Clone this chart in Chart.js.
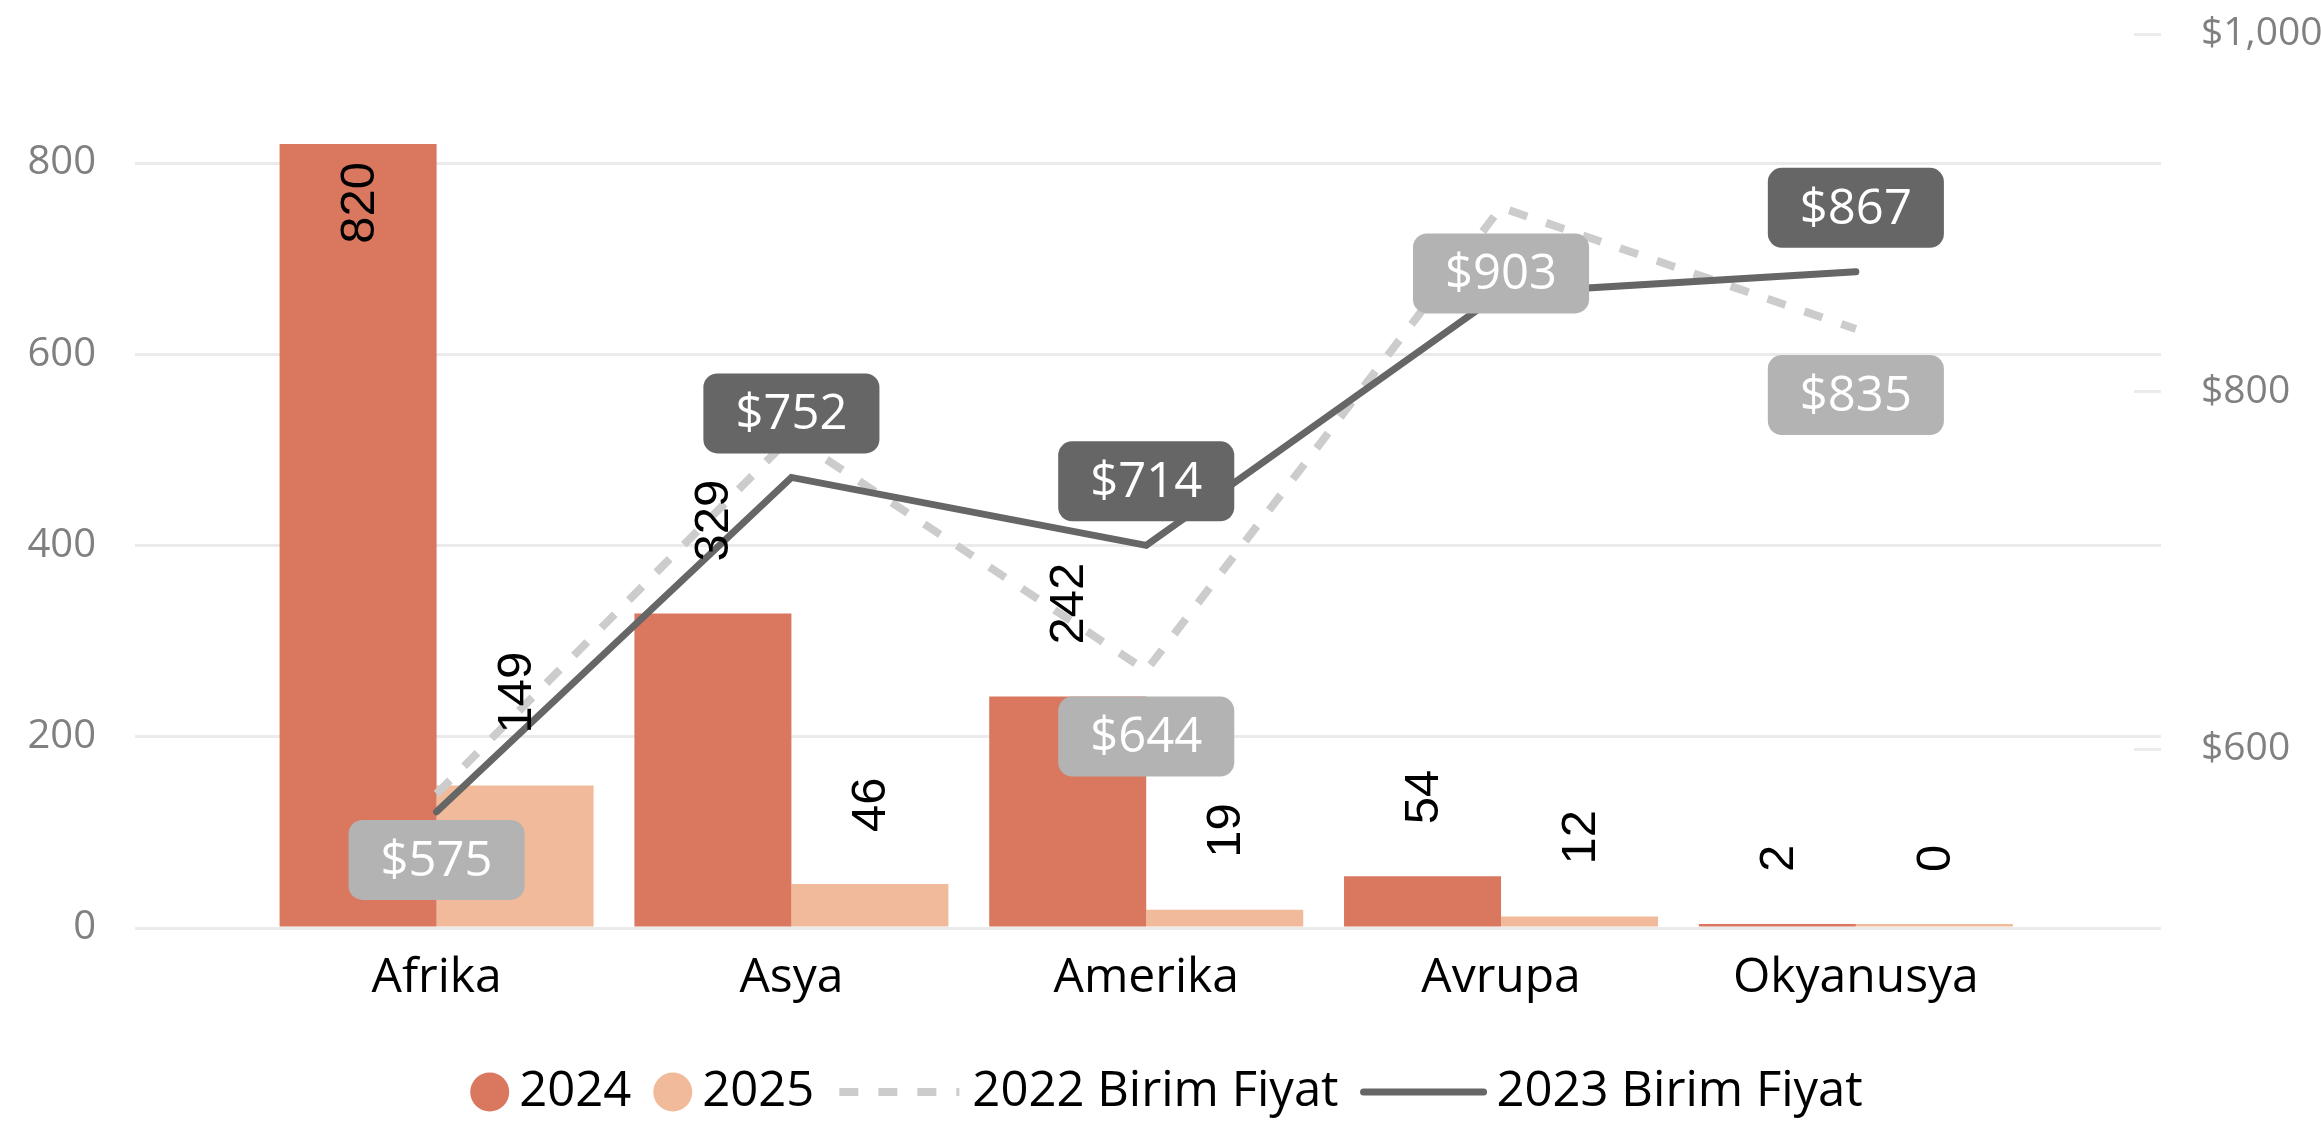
<!DOCTYPE html>
<html>
<head>
<meta charset="utf-8">
<script src="https://cdn.jsdelivr.net/npm/chart.js@4.4.1/dist/chart.umd.min.js"></script>
<style>
  html, body { margin: 0; padding: 0; background: #fff; }
  .wrap { position: relative; width: 2321px; height: 1123px; }
</style>
</head>
<body>
<div class="wrap"><canvas id="chart"></canvas></div>
<script>
// ── data ──
const categories = ['Afrika', 'Asya', 'Amerika', 'Avrupa', 'Okyanusya'];
const units2024 = [820, 329, 242, 54, 2];
const units2025 = [149, 46, 19, 12, 0];
const price2022 = [575, 775, 644, 903, 835];
const price2023 = [565, 752, 714, 855, 867];
const leftTicks = [0, 200, 400, 600, 800];
const rightTicks = [600, 800, 1000];

const FONT = '"Open Sans", "Noto Sans", sans-serif';
const toPoints = arr => arr.map((v, i) => ({ x: i, y: v }));
const money = v => '$' + Number(v).toLocaleString('en-US');

function roundBox(ctx, x, y, w, h, r) {
  ctx.beginPath();
  ctx.moveTo(x + r, y);
  ctx.arcTo(x + w, y, x + w, y + h, r);
  ctx.arcTo(x + w, y + h, x, y + h, r);
  ctx.arcTo(x, y + h, x, y, r);
  ctx.arcTo(x, y, x + w, y, r);
  ctx.closePath();
}

// value labels: rotated numbers over bars, rounded boxes on lines.
// a label that would overlap one already drawn is skipped
const valueLabels = {
  id: 'valueLabels',
  afterDatasetsDraw(chart) {
    const ctx = chart.ctx;
    const area = chart.chartArea;
    const placed = [];
    const hits = r => placed.some(p => r.x1 < p.x2 && r.x2 > p.x1 && r.y1 < p.y2 && r.y2 > p.y1);
    ctx.save();
    chart.data.datasets.forEach((ds, di) => {
      const meta = chart.getDatasetMeta(di);
      meta.data.forEach((el, i) => {
        const v = ds.data[i].y;
        if (ds.type === 'bar') {
          const text = String(v);
          ctx.font = '49px "Liberation Sans", Arial, sans-serif';
          const len = ctx.measureText(text).width;
          let y1, y2;
          if (el.y - 52 - len >= area.top) { y2 = el.y - 52; y1 = y2 - len; }
          else { y1 = el.y + 18; y2 = y1 + len; }
          placed.push({ x1: el.x - 20, x2: el.x + 20, y1, y2 });
          ctx.save();
          ctx.translate(el.x + 2, (y1 + y2) / 2);
          ctx.rotate(-Math.PI / 2);
          ctx.textAlign = 'center';
          ctx.textBaseline = 'middle';
          ctx.fillStyle = '#000';
          ctx.fillText(text, 0, 0);
          ctx.restore();
        } else {
          const text = money(v);
          ctx.font = '49px ' + FONT;
          const w = ctx.measureText(text).width + 64;
          const h = 80;
          const cy = ds.labelSide === 'below' ? el.y + 66 : el.y - 64;
          const r = { x1: el.x - w / 2, x2: el.x + w / 2, y1: cy - h / 2, y2: cy + h / 2 };
          if (hits(r)) return;
          placed.push(r);
          ctx.fillStyle = ds.labelFill;
          roundBox(ctx, r.x1, r.y1, w, h, 14);
          ctx.fill();
          ctx.fillStyle = '#fff';
          ctx.textAlign = 'center';
          ctx.textBaseline = 'middle';
          ctx.fillText(text, el.x, cy + 2);
        }
      });
    });
    ctx.restore();
  }
};

// legend drawn by hand: circles for bars, line samples for the lines
const bottomLegend = {
  id: 'bottomLegend',
  afterDraw(chart) {
    const ctx = chart.ctx;
    const y = 1092;
    ctx.save();
    ctx.font = '49px ' + FONT;
    ctx.textBaseline = 'middle';
    ctx.textAlign = 'left';
    const items = chart.data.datasets.map(ds => {
      const sym = ds.type === 'bar' ? 39 : 126;
      return { ds, sym, tw: ctx.measureText(ds.label).width };
    });
    const gapSym = 10, gapItem = 22;
    const total = items.reduce((s, it) => s + it.sym + gapSym + it.tw, 0) + gapItem * (items.length - 1);
    let x = (chart.width - total) / 2 + 6;
    items.forEach(it => {
      const ds = it.ds;
      if (ds.type === 'bar') {
        ctx.fillStyle = ds.backgroundColor;
        ctx.beginPath();
        ctx.arc(x + 19.5, y, 19.5, 0, Math.PI * 2);
        ctx.fill();
      } else {
        ctx.strokeStyle = ds.borderColor;
        ctx.lineWidth = ds.borderWidth;
        ctx.setLineDash(ds.borderDash || []);
        ctx.lineCap = ds.borderCapStyle || 'butt';
        ctx.beginPath();
        ctx.moveTo(x + 3, y);
        ctx.lineTo(x + it.sym - 3, y);
        ctx.stroke();
        ctx.setLineDash([]);
      }
      x += it.sym + gapSym;
      ctx.fillStyle = '#000';
      ctx.fillText(ds.label, x, y);
      x += it.tw + gapItem;
    });
    ctx.restore();
  }
};

new Chart(document.getElementById('chart'), {
  data: {
    datasets: [
      {
        type: 'bar', label: '2024', data: toPoints(units2024),
        backgroundColor: '#D9775F', yAxisID: 'y', order: 2,
        barPercentage: 1, categoryPercentage: 0.885, minBarLength: 4
      },
      {
        type: 'bar', label: '2025', data: toPoints(units2025),
        backgroundColor: '#F1BB9B', yAxisID: 'y', order: 3,
        barPercentage: 1, categoryPercentage: 0.885, minBarLength: 4
      },
      {
        type: 'line', label: '2022 Birim Fiyat', data: toPoints(price2022),
        borderColor: '#CCCCCC', borderWidth: 8, borderDash: [19, 20],
        pointRadius: 0, yAxisID: 'y1', order: 1,
        labelSide: 'below', labelFill: '#B3B3B3'
      },
      {
        type: 'line', label: '2023 Birim Fiyat', data: toPoints(price2023),
        borderColor: '#666666', borderWidth: 7, borderCapStyle: 'round',
        pointRadius: 0, yAxisID: 'y1', order: 0,
        labelSide: 'above', labelFill: '#666666'
      }
    ]
  },
  options: {
    responsive: true,
    maintainAspectRatio: false,
    animation: false,
    layout: { padding: { top: 34, bottom: 85, left: 0, right: 0 } },
    plugins: { legend: { display: false }, tooltip: { enabled: false } },
    scales: {
      x: {
        type: 'linear', min: -0.85, max: 4.86, offset: false,
        grid: { display: false, drawTicks: false, offset: false },
        border: { display: false },
        afterBuildTicks: s => { s.ticks = categories.map((c, i) => ({ value: i })); },
        ticks: {
          callback: v => categories[v],
          font: { family: FONT, size: 48 }, color: '#000',
          padding: 22, maxRotation: 0, autoSkip: false
        },
        afterFit: s => { s.height = 110; }
      },
      y: {
        position: 'left', min: 0, max: 935,
        afterBuildTicks: s => { s.ticks = leftTicks.map(v => ({ value: v })); },
        grid: { color: '#EBEBEB', lineWidth: 3, drawTicks: true, tickLength: 39, tickColor: 'rgba(0,0,0,0)' },
        border: { display: false },
        ticks: { padding: 0, font: { family: FONT, size: 40 }, color: '#808080' },
        afterFit: s => { s.width = 135; }
      },
      y1: {
        position: 'right', min: 500, max: 1000,
        afterBuildTicks: s => { s.ticks = rightTicks.map(v => ({ value: v })); },
        grid: { color: '#EBEBEB', lineWidth: 3, drawTicks: true, tickLength: 40, tickColor: 'rgba(0,0,0,0)' },
        border: { display: false, dash: c => [0, c.chart.chartArea.width - 27, 27, 0] },
        ticks: { padding: 0, callback: v => money(v), font: { family: FONT, size: 39 }, color: '#808080' },
        afterFit: s => { s.width = 160; }
      }
    }
  },
  plugins: [valueLabels, bottomLegend]
});
</script>
</body>
</html>
